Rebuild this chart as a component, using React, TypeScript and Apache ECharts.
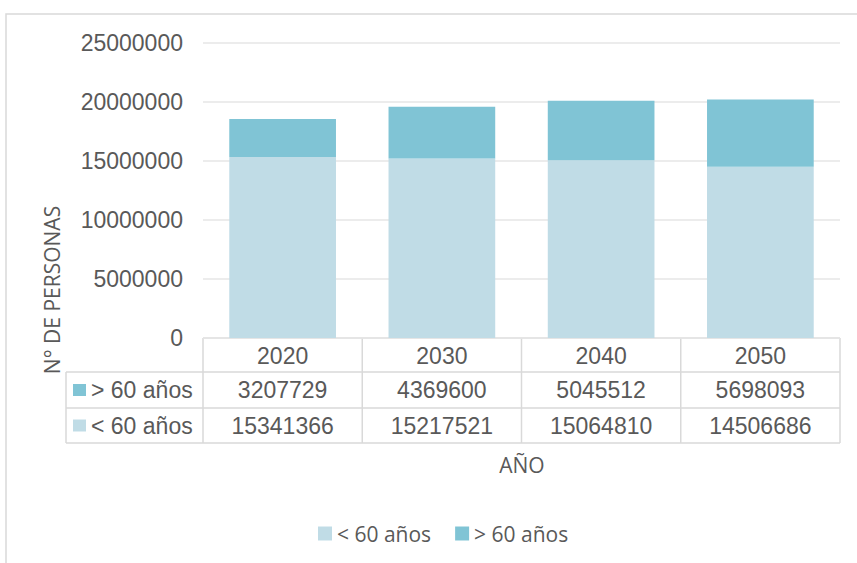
import React, { useEffect, useRef } from "react";
import * as echarts from "echarts";

const categories = ["2020", "2030", "2040", "2050"];
const seriesNames = ["< 60 años", "> 60 años"];
const under60 = [15341366, 15217521, 15064810, 14506686];
const over60 = [3207729, 4369600, 5045512, 5698093];
const yTicks = [0, 5000000, 10000000, 15000000, 20000000, 25000000];

const C_UNDER = "#c0dce6";
const C_OVER = "#80c4d5";
const TXT = "#595959";
const LINE = "#d9d9d9";
const ARIAL = "'Liberation Sans', Arial, sans-serif";
const OPEN = "'Open Sans', sans-serif";

export default function App() {
  const ref = useRef<HTMLDivElement>(null);
  useEffect(() => {
    if (!ref.current) return;
    const chart = echarts.init(ref.current, undefined, { renderer: "svg" });
    const W = 857;
    const gL = 203, gR = 840, gT = 43, gB = 338;
    const colW = (gR - gL) / categories.length;
    const tabL = 66;
    const rows = [338, 372, 408, 443];
    const g: any[] = [];
    g.push({ type: "rect", shape: { x: 6, y: 14, width: 900, height: 600 }, style: { fill: "none", stroke: LINE, lineWidth: 1.5 }, silent: true });
    g.push({ type: "line", shape: { x1: gL, y1: rows[0], x2: gR, y2: rows[0] }, style: { stroke: LINE, lineWidth: 1.5 } });
    for (let i = 1; i < rows.length; i++) {
      g.push({ type: "line", shape: { x1: tabL, y1: rows[i], x2: gR, y2: rows[i] }, style: { stroke: LINE, lineWidth: 1.5 } });
    }
    g.push({ type: "line", shape: { x1: tabL, y1: rows[1], x2: tabL, y2: rows[3] }, style: { stroke: LINE, lineWidth: 1.5 } });
    for (let c = 0; c <= categories.length; c++) {
      const x = gL + c * colW;
      g.push({ type: "line", shape: { x1: x, y1: rows[0], x2: x, y2: rows[3] }, style: { stroke: LINE, lineWidth: 1.5 } });
    }
    const rowData = [
      { name: seriesNames[1], color: C_OVER, vals: over60 },
      { name: seriesNames[0], color: C_UNDER, vals: under60 },
    ];
    rowData.forEach((r, i) => {
      const cy = (rows[i + 1] + rows[i + 2]) / 2;
      g.push({ type: "rect", shape: { x: 73, y: cy - 6, width: 13, height: 12 }, style: { fill: r.color } });
      g.push({ type: "text", x: 91, y: cy, style: { text: r.name, fill: TXT, font: "23px " + ARIAL, align: "left", verticalAlign: "middle" } });
      r.vals.forEach((v, c) => {
        g.push({ type: "text", x: gL + (c + 0.5) * colW, y: cy, style: { text: String(v), fill: TXT, font: "23px " + ARIAL, align: "center", verticalAlign: "middle" } });
      });
    });
    g.push({ type: "text", x: 52, y: 290, rotation: Math.PI / 2, style: { text: "N° DE PERSONAS", fill: TXT, font: "21px " + OPEN, align: "center", verticalAlign: "middle" } });
    g.push({ type: "text", x: 522, y: 465, style: { text: "AÑO", fill: TXT, font: "21px " + OPEN, align: "center", verticalAlign: "middle" } });

    chart.setOption({
      animation: false,
      color: [C_UNDER, C_OVER],
      grid: { left: gL, right: W - gR, top: gT, bottom: 563 - gB, containLabel: false },
      legend: {
        data: seriesNames,
        top: 518,
        left: 313,
        itemWidth: 14,
        itemHeight: 14,
        itemGap: 24,
        icon: "rect",
        textStyle: { color: TXT, fontSize: 21, fontFamily: OPEN },
      },
      xAxis: {
        type: "category",
        data: categories,
        axisLine: { show: false },
        axisTick: { show: false },
        axisLabel: { color: TXT, fontSize: 23, fontFamily: ARIAL, margin: 6 },
      },
      yAxis: {
        type: "value",
        min: yTicks[0],
        max: yTicks[yTicks.length - 1],
        interval: 5000000,
        axisLine: { show: false },
        axisTick: { show: false },
        splitLine: { lineStyle: { color: "#e6e6e6", width: 1.5 } },
        axisLabel: { color: TXT, fontSize: 23, fontFamily: ARIAL, margin: 20, formatter: (v: number) => String(v) },
      },
      series: [
        { name: seriesNames[0], type: "bar", stack: "t", data: under60, barWidth: "67%" },
        { name: seriesNames[1], type: "bar", stack: "t", data: over60, barWidth: "67%" },
      ],
      graphic: g,
    });
    return () => chart.dispose();
  }, []);
  return <div ref={ref} style={{ width: 857, height: 563, position: "absolute", left: 0, top: 0 }} />;
}
